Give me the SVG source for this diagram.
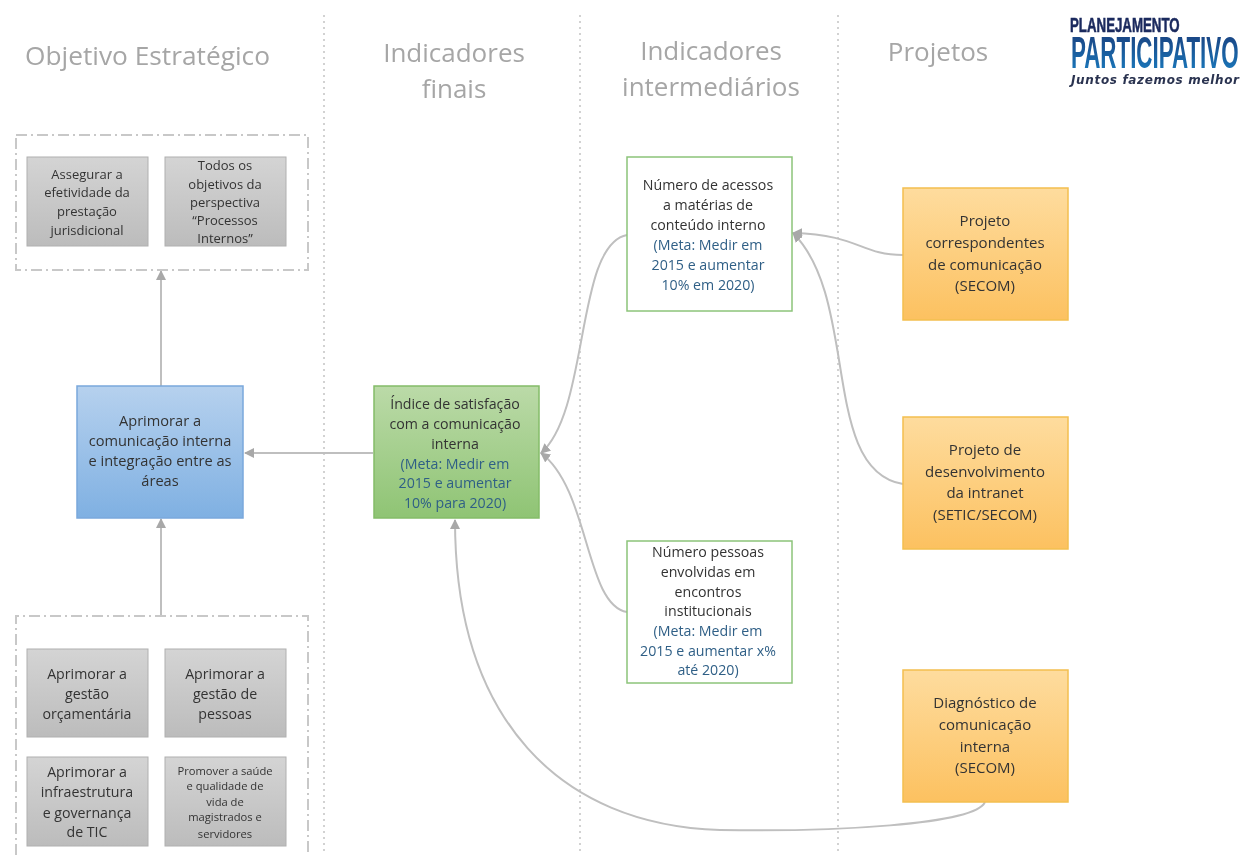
<svg xmlns="http://www.w3.org/2000/svg" width="1242" height="855" viewBox="0 0 1242 855">
<style>
svg>g{filter:url(#soft)}
text{font-family:"Open Sans","Noto Sans","Liberation Sans",sans-serif;text-anchor:middle;fill:#333;font-size:14.2px}
.h{font-size:26px;fill:#a6a6a6}
.m{fill:#2f5f86}
.o{font-size:15px}
.i{font-size:14.6px}
.s{font-size:13px;fill:#333}
.xs{font-size:11.2px;fill:#333}
.lg{font-family:"Liberation Sans",sans-serif;font-weight:bold;text-anchor:start}
.sep{stroke:#c4c4c4;stroke-width:1.5;stroke-dasharray:2 4;fill:none}
.grp{stroke:#c8c8c8;stroke-width:2;stroke-dasharray:11 4 2 4;fill:none}
.gray{fill:url(#g);stroke:#b0b0b0;stroke-width:1}
.or{fill:url(#o);stroke:#f3bf4f;stroke-width:1.5}
.wh{fill:#fff;stroke:#8cc47a;stroke-width:1.5}
.c{fill:none;stroke:#bfbfbf;stroke-width:2;marker-end:url(#a)}
</style>
<defs>
<filter id="soft" x="-5%" y="-5%" width="110%" height="110%" color-interpolation-filters="sRGB"><feGaussianBlur stdDeviation="0.45"/></filter>
<linearGradient id="g" x1="0" y1="0" x2="0" y2="1"><stop offset="0" stop-color="#d4d4d4"/><stop offset="1" stop-color="#bcbcbc"/></linearGradient>
<linearGradient id="o" x1="0" y1="0" x2="0" y2="1"><stop offset="0" stop-color="#fedc9e"/><stop offset="1" stop-color="#fcc160"/></linearGradient>
<linearGradient id="b" x1="0" y1="0" x2="0" y2="1"><stop offset="0" stop-color="#b6d1ee"/><stop offset="1" stop-color="#7fb0e2"/></linearGradient>
<linearGradient id="gr" x1="0" y1="0" x2="0" y2="1"><stop offset="0" stop-color="#bbdaa8"/><stop offset="1" stop-color="#8fc474"/></linearGradient>
<linearGradient id="lg" x1="0" y1="0" x2="0" y2="1"><stop offset="0" stop-color="#1a3a78"/><stop offset="1" stop-color="#1a80c4"/></linearGradient>
<marker id="a" viewBox="0 0 10 10" refX="9" refY="5" markerWidth="5" markerHeight="5" orient="auto-start-reverse" markerUnits="strokeWidth"><path d="M0 0L10 5L0 10Z" fill="#a8a8a8"/></marker>
</defs>
<rect width="1242" height="855" fill="#fff"/>
<g id="separators">
<path class="sep" d="M324 15V855M580 15V855M838 15V855"/>
</g>
<g id="headers">
<text class="h" x="147.500" y="65" textLength="245" lengthAdjust="spacingAndGlyphs">Objetivo Estratégico</text>
<text class="h" x="454" y="62">Indicadores</text>
<text class="h" x="454" y="98">finais</text>
<text class="h" x="711" y="60">Indicadores</text>
<text class="h" x="711" y="96">intermediários</text>
<text class="h" x="938" y="61">Projetos</text>
</g>
<g id="logo">
<text class="lg" transform="translate(1070 32) scale(.664 1)" style="font-size:20px;fill:#1b2a5e;stroke:#1b2a5e;stroke-width:.6">PLANEJAMENTO</text>
<text class="lg" transform="translate(1071 68) scale(.508 1)" style="font-size:44px;fill:url(#lg)">PARTICIPATIVO</text>
<text x="1155" y="84" textLength="168" lengthAdjust="spacing" style="font-family:'DejaVu Sans',sans-serif;font-style:italic;font-weight:bold;font-size:12px;fill:#2a3350">Juntos fazemos melhor</text>
</g>
<g id="connectors">
<path class="c" d="M161 386V271"/>
<path class="c" d="M161 616V519"/>
<path class="c" d="M373 453H245"/>
<path class="c" d="M627 235C575 245 590 410 541 453"/>
<path class="c" d="M627 612C585 605 590 490 541 453"/>
<path class="c" d="M903 255C860 255 860 235 793 233"/>
<path class="c" d="M903 484C820 470 860 300 793 233"/>
<path class="c" d="M985 802C975 825 830 832 720 830C560 825 455 720 455 520"/>
</g>
<g id="group-top"><rect class="grp" x="16" y="135" width="292" height="135"/></g>
<g id="group-bottom"><path class="grp" d="M16 855V616H308V855"/></g>
<g id="n-assegurar">
<rect class="gray" x="27" y="157" width="121" height="89"/>
<text class="s" x="87" y="179">Assegurar a</text><text class="s" x="87" y="197">efetividade da</text><text class="s" x="87" y="216">prestação</text><text class="s" x="87" y="235">jurisdicional</text>
</g>
<g id="n-todos">
<rect class="gray" x="165" y="157" width="121" height="89"/>
<text class="s" x="225" y="170">Todos os</text><text class="s" x="225" y="189">objetivos da</text><text class="s" x="225" y="207">perspectiva</text><text class="s" x="225" y="225">“Processos</text><text class="s" x="225" y="243">Internos”</text>
</g>
<g id="n-orcamentaria">
<rect class="gray" x="27" y="649" width="121" height="88"/>
<text x="87" y="679">Aprimorar a</text><text x="87" y="699">gestão</text><text x="87" y="719">orçamentária</text>
</g>
<g id="n-pessoas">
<rect class="gray" x="165" y="649" width="121" height="88"/>
<text x="225" y="679">Aprimorar a</text><text x="225" y="699">gestão de</text><text x="225" y="719">pessoas</text>
</g>
<g id="n-tic">
<rect class="gray" x="27" y="757" width="121" height="89"/>
<text x="87" y="777">Aprimorar a</text><text x="87" y="797">infraestrutura</text><text x="87" y="818">e governança</text><text x="87" y="837">de TIC</text>
</g>
<g id="n-saude">
<rect class="gray" x="165" y="757" width="121" height="89"/>
<text class="xs" x="225" y="775">Promover a saúde</text><text class="xs" x="225" y="790">e qualidade  de</text><text class="xs" x="225" y="806">vida de</text><text class="xs" x="225" y="821">magistrados e</text><text class="xs" x="225" y="838">servidores</text>
</g>
<g id="n-aprimorar">
<rect x="77" y="386" width="166" height="132" fill="url(#b)" stroke="#7aa8dc" stroke-width="1.5"/>
<text class="i" x="160" y="426">Aprimorar a</text><text class="i" x="160" y="446">comunicação interna</text><text class="i" x="160" y="466">e integração entre as</text><text class="i" x="160" y="486">áreas</text>
</g>
<g id="n-indice">
<rect x="374" y="386" width="165" height="132" fill="url(#gr)" stroke="#84bc68" stroke-width="1.5"/>
<text x="455" y="409">Índice de satisfação</text><text x="455" y="429">com a comunicação</text><text x="455" y="449">interna</text>
<text class="m" x="455" y="469">(Meta: Medir em</text><text class="m" x="455" y="488">2015 e aumentar</text><text class="m" x="455" y="508">10% para 2020)</text>
</g>
<g id="n-acessos">
<rect class="wh" x="627" y="157" width="165" height="154"/>
<text x="708" y="190">Número de acessos</text><text x="708" y="210">a matérias de</text><text x="708" y="230">conteúdo interno</text>
<text class="m" x="708" y="250">(Meta: Medir em</text><text class="m" x="708" y="270">2015 e aumentar</text><text class="m" x="708" y="290">10% em 2020)</text>
</g>
<g id="n-pessoas-env">
<rect class="wh" x="627" y="541" width="165" height="142"/>
<text x="708" y="557">Número pessoas</text><text x="708" y="577">envolvidas em</text><text x="708" y="597">encontros</text><text x="708" y="616">institucionais</text>
<text class="m" x="708" y="636">(Meta: Medir em</text><text class="m" x="708" y="656">2015 e aumentar x%</text><text class="m" x="708" y="675">até 2020)</text>
</g>
<g id="n-correspondentes">
<rect class="or" x="903" y="188" width="165" height="132"/>
<text class="o" x="985" y="226">Projeto</text><text class="o" x="985" y="248">correspondentes</text><text class="o" x="985" y="270">de comunicação</text><text class="o" x="985" y="291">(SECOM)</text>
</g>
<g id="n-intranet">
<rect class="or" x="903" y="417" width="165" height="132"/>
<text class="o" x="985" y="455">Projeto de</text><text class="o" x="985" y="477">desenvolvimento</text><text class="o" x="985" y="498">da intranet</text><text class="o" x="985" y="520">(SETIC/SECOM)</text>
</g>
<g id="n-diagnostico">
<rect class="or" x="903" y="670" width="165" height="132"/>
<text class="o" x="985" y="708">Diagnóstico de</text><text class="o" x="985" y="730">comunicação</text><text class="o" x="985" y="752">interna</text><text class="o" x="985" y="773">(SECOM)</text>
</g>
</svg>
